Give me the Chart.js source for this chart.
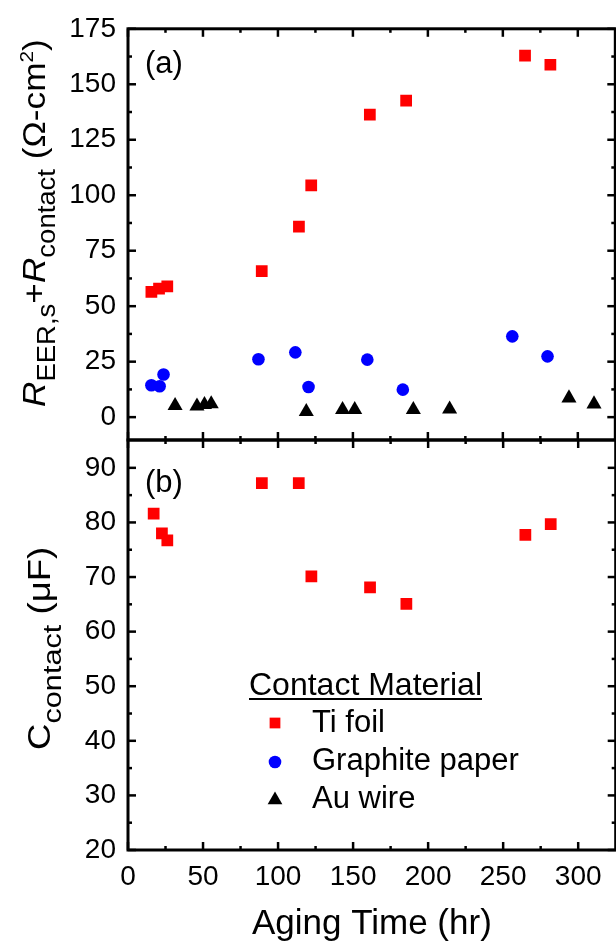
<!DOCTYPE html>
<html>
<head>
<meta charset="utf-8">
<script src="https://cdn.jsdelivr.net/npm/chart.js@4.4.1/dist/chart.umd.min.js"></script>
<style>
  html, body { margin: 0; padding: 0; background: #fff; overflow: hidden; }
  #wrap { position: relative; width: 616px; height: 945px; overflow: hidden; background: #fff; }
  canvas { position: absolute; left: 0; top: 0; }
</style>
</head>
<body>
<div id="wrap">
  <canvas id="chartA" width="624" height="945"></canvas>
  <canvas id="chartB" width="624" height="945"></canvas>
</div>
<script>
// panel (a): resistance vs aging time
const tiTimeA = [15.6, 20.7, 26.2, 89.2, 114, 122.2, 161.3, 185.5, 264.8, 281.7];
const tiResistance = [56.4, 57.9, 58.9, 65.8, 85.9, 104.4, 136.3, 142.6, 162.9, 158.8];
const graphiteTime = [15.6, 21.1, 23.7, 87, 111.6, 120.4, 159.6, 183.3, 256.3, 279.8];
const graphiteResistance = [14.4, 13.9, 19.2, 26.1, 29.2, 13.6, 25.9, 12.4, 36.4, 27.4];
const auTime = [31.4, 46, 51, 55.5, 118.9, 143.1, 151.2, 190.3, 214.5, 294.1, 310.8];
const auResistance = [5.2, 4.9, 5.6, 6.0, 2.5, 3.4, 3.4, 3.4, 3.6, 8.6, 5.9];

// panel (b): capacitance vs aging time
const tiTimeB = [17.1, 22.6, 26.2, 89.2, 113.8, 122.2, 161.3, 185.5, 264.8, 281.7];
const tiCapacitance = [81.6, 78.0, 76.7, 87.2, 87.2, 70.1, 68.1, 65.1, 77.7, 79.7];

// ticks
const xTicks = [0, 50, 100, 150, 200, 250, 300];
const xMinorTicks = [25, 75, 125, 175, 225, 275];
const yTicksA = [0, 25, 50, 75, 100, 125, 150, 175];
const yMinorTicksA = [12.5, 37.5, 62.5, 87.5, 112.5, 137.5, 162.5];
const yTicksB = [20, 30, 40, 50, 60, 70, 80, 90];
const yMinorTicksB = [25, 35, 45, 55, 65, 75, 85];

const legendTitle = "Contact Material";
const legendLabels = ["Ti foil", "Graphite paper", "Au wire"];

const FONT = "'Liberation Sans', Arial, sans-serif";
Chart.defaults.font.family = FONT;
Chart.defaults.color = "#000";

const RED = "#ff0000";
const BLUE = "#0000ff";
const BLACK = "#000000";

function points(xs, ys) {
  return xs.map(function (x, i) {
    return { x: x, y: ys[i] };
  });
}

function series(label, xs, ys, color, style, radius) {
  return {
    label: label,
    data: points(xs, ys),
    pointStyle: style,
    pointRadius: radius,
    pointBackgroundColor: color,
    pointBorderColor: color,
    pointBorderWidth: 0,
    showLine: false
  };
}

function drawFrame(chart, yMajor, yMinor) {
  const ctx = chart.ctx;
  const a = chart.chartArea;
  const xs = chart.scales.x;
  const ys = chart.scales.y;
  ctx.save();
  ctx.strokeStyle = "#000";
  ctx.lineCap = "butt";

  function line(x1, y1, x2, y2) {
    ctx.beginPath();
    ctx.moveTo(x1, y1);
    ctx.lineTo(x2, y2);
    ctx.stroke();
  }

  ctx.lineWidth = 2.5;
  xTicks.forEach(function (v) {
    const px = xs.getPixelForValue(v);
    line(px, a.top, px, a.top + 8);
    line(px, a.bottom, px, a.bottom - 8);
  });
  yMajor.forEach(function (v) {
    const py = ys.getPixelForValue(v);
    line(a.left, py, a.left + 8, py);
    line(a.right, py, a.right - 8, py);
  });
  xMinorTicks.forEach(function (v) {
    const px = xs.getPixelForValue(v);
    line(px, a.top, px, a.top + 4);
    line(px, a.bottom, px, a.bottom - 4);
  });
  yMinor.forEach(function (v) {
    const py = ys.getPixelForValue(v);
    line(a.left, py, a.left + 4, py);
    line(a.right, py, a.right - 4, py);
  });

  ctx.lineWidth = 3;
  ctx.strokeRect(a.left, a.top, a.right - a.left, a.bottom - a.top);
  ctx.restore();
}

// rotated axis title built from pieces (subscripts / superscripts)
function drawVerticalTitle(ctx, parts, x, y, stretch) {
  ctx.save();
  ctx.translate(x, y);
  ctx.rotate(-Math.PI / 2);
  ctx.scale(stretch, 1);
  ctx.fillStyle = "#000";
  ctx.textAlign = "left";
  ctx.textBaseline = "alphabetic";
  let cx = 0;
  parts.forEach(function (p) {
    ctx.font = p.font;
    ctx.fillText(p.text, cx, p.dy || 0);
    cx += ctx.measureText(p.text).width;
  });
  ctx.restore();
}

const decorPlugin = {
  id: "panelDecor",
  afterDraw: function (chart, args, opts) {
    const ctx = chart.ctx;
    drawFrame(chart, opts.yMajor, opts.yMinor);

    ctx.save();
    ctx.fillStyle = "#000";
    ctx.font = "31px " + FONT;
    ctx.textBaseline = "alphabetic";
    ctx.fillText(opts.panelLabel, 145, opts.panelLabelY);
    ctx.restore();

    drawVerticalTitle(ctx, opts.titleParts, opts.titleX, opts.titleY, opts.titleStretch);

    if (opts.legend) {
      ctx.save();
      ctx.fillStyle = "#000";
      ctx.font = "32px " + FONT;
      ctx.fillText(legendTitle, 249, 695);
      const w = ctx.measureText(legendTitle).width;
      ctx.fillRect(249, 698, w, 2);
      ctx.font = "31px " + FONT;
      const markers = [
        { style: "rect", color: RED, radius: 7.6, y: 723 },
        { style: "circle", color: BLUE, radius: 6.3, y: 762 },
        { style: "triangle", color: BLACK, radius: 8.5, y: 800 }
      ];
      const baselines = [732, 770, 808];
      legendLabels.forEach(function (label, i) {
        const m = markers[i];
        ctx.fillStyle = m.color;
        ctx.strokeStyle = m.color;
        Chart.helpers.drawPoint(ctx, { pointStyle: m.style, radius: m.radius, rotation: 0, borderWidth: 0 }, 275, m.y);
        ctx.fillStyle = "#000";
        ctx.fillText(label, 312, baselines[i]);
      });
      ctx.restore();
    }
  }
};

const tickFont = { family: FONT, size: 28 };

function yScale(min, max, ticks) {
  return {
    type: "linear",
    min: min,
    max: max,
    grid: { display: false, drawTicks: false },
    border: { display: false },
    ticks: { font: tickFont, color: "#000", padding: 12 },
    afterBuildTicks: function (scale) {
      scale.ticks = ticks.map(function (v) { return { value: v }; });
    },
    afterFit: function (scale) {
      scale.width = 128;
    }
  };
}

const baseOptions = {
  responsive: false,
  animation: false,
  devicePixelRatio: 1,
  events: []
};

new Chart(document.getElementById("chartA"), {
  type: "scatter",
  data: {
    datasets: [
      series("Ti foil", tiTimeA, tiResistance, RED, "rect", 8.3),
      series("Graphite paper", graphiteTime, graphiteResistance, BLUE, "circle", 6.3),
      series("Au wire", auTime, auResistance, BLACK, "triangle", 8.7)
    ]
  },
  options: Object.assign({}, baseOptions, {
    layout: { padding: { top: 28, right: 3, bottom: 505, left: 0 } },
    scales: {
      x: { type: "linear", min: 0, max: 325, display: false },
      y: yScale(-10.3, 175, yTicksA)
    },
    plugins: {
      legend: { display: false },
      tooltip: { enabled: false },
      panelDecor: {
        yMajor: yTicksA,
        yMinor: yMinorTicksA,
        panelLabel: "(a)",
        panelLabelY: 73,
        titleX: 45,
        titleY: 407,
        titleStretch: 1.1,
        titleParts: [
          { text: "R", font: "italic 32px " + FONT },
          { text: "EER,s", font: "25px " + FONT, dy: 10 },
          { text: "+", font: "32px " + FONT },
          { text: "R", font: "italic 32px " + FONT },
          { text: "contact", font: "25px " + FONT, dy: 10 },
          { text: " (\u03A9-cm", font: "32px " + FONT },
          { text: "2", font: "19px " + FONT, dy: -12 },
          { text: ")", font: "32px " + FONT }
        ]
      }
    }
  }),
  plugins: [decorPlugin]
});

new Chart(document.getElementById("chartB"), {
  type: "scatter",
  data: {
    datasets: [
      series("Ti foil", tiTimeB, tiCapacitance, RED, "rect", 8.3)
    ]
  },
  options: Object.assign({}, baseOptions, {
    layout: { padding: { top: 440, right: 3, bottom: 0, left: 0 } },
    scales: {
      x: {
        type: "linear",
        min: 0,
        max: 325,
        grid: { display: false, drawTicks: false },
        border: { display: false },
        ticks: { font: tickFont, color: "#000", padding: 10, maxRotation: 0 },
        title: {
          display: true,
          text: "Aging Time (hr)",
          color: "#000",
          font: { family: FONT, size: 35 },
          padding: { top: 0, bottom: 0 }
        },
        afterBuildTicks: function (scale) {
          scale.ticks = xTicks.map(function (v) { return { value: v }; });
        },
        afterFit: function (scale) {
          scale.height = 95;
        }
      },
      y: yScale(20, 95.1, yTicksB)
    },
    plugins: {
      legend: { display: false },
      tooltip: { enabled: false },
      panelDecor: {
        yMajor: yTicksB,
        yMinor: yMinorTicksB,
        panelLabel: "(b)",
        panelLabelY: 492,
        legend: true,
        titleX: 50,
        titleY: 750,
        titleStretch: 1.18,
        titleParts: [
          { text: "C", font: "31px " + FONT },
          { text: "contact", font: "26px " + FONT, dy: 11 },
          { text: " (\u03BCF)", font: "31px " + FONT }
        ]
      }
    }
  }),
  plugins: [decorPlugin]
});
</script>
</body>
</html>
